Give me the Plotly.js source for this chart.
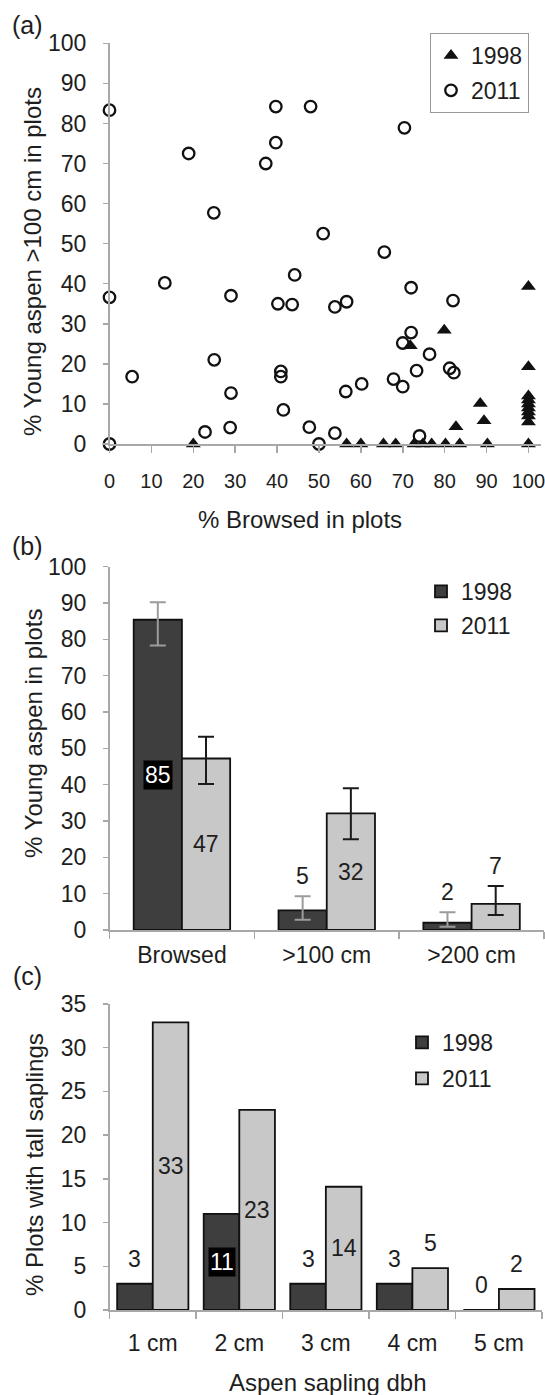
<!DOCTYPE html>
<html>
<head>
<meta charset="utf-8">
<script src="https://cdn.plot.ly/plotly-3.0.1.min.js"></script>
<style>
  html, body { margin: 0; padding: 0; background: #fff; }
  #chart { width: 545px; height: 1395px; }
</style>
</head>
<body>
<div id="chart"></div>
<script>
// ---------- Panel (a): scatter data ----------
const browsed1998 = [20, 56.6, 60, 65.4, 68.3, 72.7, 74.8, 76.9, 80.2, 83.6, 90.2, 100,
                     71.8, 79.9, 82.7, 88.5, 89.4, 100, 100, 100, 100, 100, 100, 100, 100, 100];
const tall1998    = [0, 0, 0, 0, 0, 0, 0, 0, 0, 0, 0, 0,
                     24.5, 28.4, 4.3, 10.1, 5.8, 19.3, 39.3, 12, 11, 10, 9, 8, 7, 5.5];
const browsed2011 = [0, 18.9, 39.7, 48, 39.7, 37.3, 24.9, 70.4, 51, 0, 5.4, 13.2, 22.8, 25, 29, 29,
                     28.8, 40.2, 43.6, 44.2, 40.9, 40.9, 41.5, 47.7, 50, 53.8, 53.8, 56.6, 56.4, 60.2,
                     65.6, 72, 72, 70, 67.8, 70, 73.3, 76.4, 81.2, 82.2, 82, 74, 0];
const tall2011    = [83.3, 72.5, 84.2, 84.2, 75.2, 70, 57.7, 78.9, 52.5, 36.6, 16.8, 40.2, 3, 21, 37, 12.7,
                     4.1, 35, 34.8, 42.2, 18.1, 16.8, 8.5, 4.2, 0, 2.7, 34.2, 35.5, 13.1, 15,
                     47.9, 39, 27.8, 25.2, 16.2, 14.3, 18.3, 22.4, 18.9, 17.8, 35.8, 2, 0];

// ---------- Panel (b): bar data ----------
const catB = ['Browsed', '>100 cm', '>200 cm'];
const b1998 = [85.4, 5.4, 2.0];
const b1998Plus = [4.8, 3.9, 2.9];
const b1998Minus = [7.1, 2.6, 1.1];
const b2011 = [47.2, 32.1, 7.2];
const b2011Plus = [6.0, 6.9, 4.9];
const b2011Minus = [7.0, 7.1, 3.1];

// ---------- Panel (c): bar data ----------
const catC = ['1 cm', '2 cm', '3 cm', '4 cm', '5 cm'];
const c1998 = [3, 11, 3, 3, 0];
const c2011 = [32.9, 22.9, 14.1, 4.8, 2.4];

const seriesNames = ['1998', '2011'];

// ---------- styling helpers ----------
const W = 545, H = 1395;
const fx = X => X / W;
const fy = Y => 1 - Y / H;
const FONT = 'Liberation Sans, Arial, sans-serif';
const TXT = '#1e1e1e';
const AX = '#a8a8a8';
const DARK = '#3e3e3e';
const LIGHT = '#c8c8c8';
const wB = 0.333;   // bar width (category units) in panel b
const wC = 0.4115;  // bar width in panel c

const axisBase = {
  showline: true, linecolor: AX, linewidth: 1.5,
  ticks: 'outside', tickcolor: AX, tickwidth: 1.5,
  showgrid: false, zeroline: false, fixedrange: true,
  tickfont: { family: FONT, size: 23, color: TXT }
};

const traces = [
  { type: 'scatter', mode: 'markers', name: seriesNames[0], x: browsed1998, y: tall1998,
    xaxis: 'x', yaxis: 'y', cliponaxis: false, legend: 'legend', legendgroup: 'a1',
    marker: { symbol: 'triangle-up', size: 13, color: '#111' } },
  { type: 'scatter', mode: 'markers', name: seriesNames[1], x: browsed2011, y: tall2011,
    xaxis: 'x', yaxis: 'y', cliponaxis: false, legend: 'legend', legendgroup: 'a2',
    marker: { symbol: 'circle-open', size: 11.5, color: '#111', line: { width: 2.3, color: '#111' } } },

  { type: 'bar', name: seriesNames[0], x: catB, y: b1998, xaxis: 'x2', yaxis: 'y2',
    width: wB, offset: -wB, legend: 'legend2', legendgroup: 'b1',
    marker: { color: DARK, line: { color: '#111', width: 1.8 } },
    error_y: { type: 'data', symmetric: false, array: b1998Plus, arrayminus: b1998Minus,
               color: '#9c9c9c', thickness: 2, width: 8 } },
  { type: 'bar', name: seriesNames[1], x: catB, y: b2011, xaxis: 'x2', yaxis: 'y2',
    width: wB, offset: 0, legend: 'legend2', legendgroup: 'b2',
    marker: { color: LIGHT, line: { color: '#111', width: 1.8 } },
    error_y: { type: 'data', symmetric: false, array: b2011Plus, arrayminus: b2011Minus,
               color: '#1a1a1a', thickness: 2, width: 8 } },

  { type: 'bar', name: seriesNames[0], x: catC, y: c1998, xaxis: 'x3', yaxis: 'y3',
    width: wC, offset: -wC, legend: 'legend3', legendgroup: 'c1',
    marker: { color: DARK, line: { color: '#111', width: 1.8 } } },
  { type: 'bar', name: seriesNames[1], x: catC, y: c2011, xaxis: 'x3', yaxis: 'y3',
    width: wC, offset: 0, legend: 'legend3', legendgroup: 'c2',
    marker: { color: LIGHT, line: { color: '#111', width: 1.8 } } }
];

// ---------- value labels ----------
const annotations = [];
function addLabels(xref, yref, vals, errPlus, w, insideMin, dark, aboveShift) {
  vals.forEach((v, i) => {
    const xPos = dark ? i - w / 2 : i + w / 2;
    const inside = v >= insideMin;
    const a = {
      xref: xref, yref: yref, x: xPos, showarrow: false,
      text: String(Math.round(v)), xanchor: 'center', yanchor: 'middle',
      font: { family: FONT, size: 23, color: TXT }
    };
    if (inside) {
      a.y = v / 2;
      if (dark) { a.bgcolor = '#000'; a.font.color = '#fff'; a.borderpad = 1; }
    } else {
      a.y = v + (errPlus ? errPlus[i] : 0);
      a.yshift = aboveShift;
    }
    annotations.push(a);
  });
}
addLabels('x2', 'y2', b1998, b1998Plus, wB, 20, true, 20);
addLabels('x2', 'y2', b2011, b2011Plus, wB, 20, false, 20);
addLabels('x3', 'y3', c1998, null, wC, 10, true, 25);
addLabels('x3', 'y3', c2011, null, wC, 10, false, 25);

// ---------- axis titles and panel letters (as positioned text) ----------
function paperText(text, X, Y, angle, size) {
  annotations.push({ xref: 'paper', yref: 'paper', x: fx(X), y: fy(Y), text: text,
    showarrow: false, xanchor: 'center', yanchor: 'middle', textangle: angle || 0,
    font: { family: FONT, size: size || 24, color: TXT } });
}
paperText('% Young aspen >100 cm in plots', 33, 262, -90);
paperText('% Browsed in plots', 300, 519);
paperText('% Young aspen in plots', 33, 733, -90);
paperText('% Plots with tall saplings', 34, 1165, -90);
paperText('Aspen sapling dbh', 327, 1382);
paperText('(a)', 27, 25, 0, 25);
paperText('(b)', 27, 546, 0, 25);
paperText('(c)', 27, 976, 0, 25);

const legendFont = { family: FONT, size: 23, color: TXT };

const layout = {
  width: W, height: H,
  margin: { l: 0, r: 0, t: 0, b: 0 },
  paper_bgcolor: '#fff', plot_bgcolor: '#fff',
  font: { family: FONT, color: TXT },
  barmode: 'overlay',
  showlegend: true,
  // panel (a)
  xaxis: Object.assign({}, axisBase, {
    domain: [fx(109.5), fx(541)], range: [0, 103], anchor: 'y',
    tick0: 0, dtick: 10, ticklen: 7, ticklabelstandoff: 11,
    ticklabeloverflow: 'allow',
    tickfont: { family: FONT, size: 20, color: TXT } }),
  yaxis: Object.assign({}, axisBase, {
    domain: [fy(444), fy(43.3)], range: [0, 100], anchor: 'x',
    tick0: 0, dtick: 10, ticklen: 5, ticklabelstandoff: 12 }),
  // panel (b)
  xaxis2: Object.assign({}, axisBase, {
    domain: [fx(109.5), fx(544)], range: [-0.5, 2.5], anchor: 'y2', type: 'category',
    tickson: 'boundaries', ticklen: 7, ticklabelstandoff: 4 }),
  yaxis2: Object.assign({}, axisBase, {
    domain: [fy(930), fy(566.7)], range: [0, 100], anchor: 'x2',
    tick0: 0, dtick: 10, ticklen: 5, ticklabelstandoff: 12 }),
  // panel (c)
  xaxis3: Object.assign({}, axisBase, {
    domain: [fx(109.5), fx(542.2)], range: [-0.5, 4.5], anchor: 'y3', type: 'category',
    tickson: 'boundaries', ticklen: 7, ticklabelstandoff: 12 }),
  yaxis3: Object.assign({}, axisBase, {
    domain: [fy(1310), fy(1004)], range: [0, 35], anchor: 'x3',
    tick0: 0, dtick: 5, ticklen: 5, ticklabelstandoff: 12 }),
  legend: { x: fx(430), y: fy(33), xanchor: 'left', yanchor: 'top',
    bordercolor: '#999', borderwidth: 1, bgcolor: '#fff', font: legendFont,
    tracegroupgap: 2, itemclick: false, itemdoubleclick: false },
  legend2: { x: fx(421), y: fy(570), xanchor: 'left', yanchor: 'top',
    borderwidth: 0, bgcolor: 'rgba(0,0,0,0)', font: legendFont,
    tracegroupgap: 1, itemclick: false, itemdoubleclick: false },
  legend3: { x: fx(402), y: fy(1021), xanchor: 'left', yanchor: 'top',
    borderwidth: 0, bgcolor: 'rgba(0,0,0,0)', font: legendFont,
    tracegroupgap: 3, itemclick: false, itemdoubleclick: false },
  annotations: annotations
};

Plotly.newPlot('chart', traces, layout, { displayModeBar: false, staticPlot: true });
</script>
</body>
</html>
